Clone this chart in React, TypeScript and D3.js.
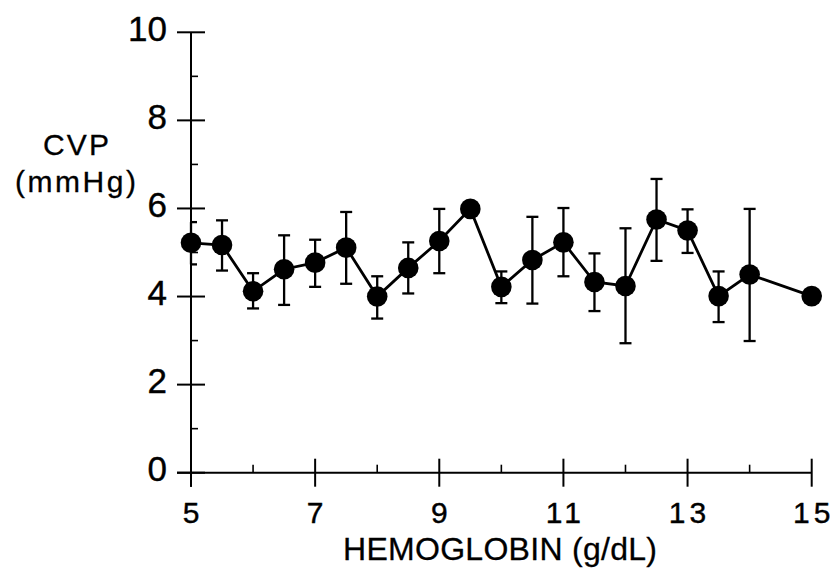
import React from "react";
import * as d3 from "d3";

const hemoglobin = [5, 5.5, 6, 6.5, 7, 7.5, 8, 8.5, 9, 9.5, 10, 10.5, 11, 11.5, 12, 12.5, 13, 13.5, 14, 15];
const cvp = [5.22, 5.17, 4.12, 4.62, 4.77, 5.11, 4.0, 4.65, 5.26, 5.99, 4.22, 4.83, 5.23, 4.33, 4.24, 5.75, 5.5, 4.01, 4.5, 4.01];
const errHigh: (number | null)[] = [5.69, 5.73, 4.53, 5.39, 5.29, 5.92, 4.46, 5.23, 5.99, null, 4.57, 5.81, 6.01, 4.98, 5.55, 6.67, 5.98, 4.57, 5.99, null];
const errLow: (number | null)[] = [4.73, 4.59, 3.73, 3.81, 4.22, 4.29, 3.5, 4.07, 4.53, null, 3.85, 3.84, 4.46, 3.67, 2.94, 4.81, 4.99, 3.42, 2.99, null];

const xMajorTicks = [5, 7, 9, 11, 13, 15];
const xMinorTicks = [6, 8, 10, 12, 14];
const yMajorTicks = [0, 2, 4, 6, 8, 10];
const yMinorTicks = [1, 3, 5, 7, 9];

const xTitle = "HEMOGLOBIN  (g/dL)";
const yTitle1 = "CVP";
const yTitle2 = "(mmHg)";

const FONT = "'Liberation Sans', Arial, Helvetica, sans-serif";

export default function App() {
  const W = 838;
  const H = 570;
  const x = d3.scaleLinear().domain([5, 15]).range([191, 811.7]);
  const y = d3.scaleLinear().domain([0, 10]).range([472.7, 32.3]);
  const axisX = x(5);
  const axisY = y(0);

  const line = d3
    .line<number>()
    .x((_, i) => x(hemoglobin[i]))
    .y((d) => y(d));

  const cap = 6;
  const ls = 4;

  return (
    <svg
      width={W}
      height={H}
      viewBox={`0 0 ${W} ${H}`}
      style={{ position: "absolute", left: 0, top: 0, display: "block", background: "#fff" }}
    >
      <rect x={0} y={0} width={W} height={H} fill="#fff" />
      {/* Y axis */}
      <line x1={axisX} x2={axisX} y1={y(10)} y2={axisY + 14} stroke="#000" strokeWidth={2} />
      {yMajorTicks.map((t) => (
        <g key={"ym" + t}>
          <line x1={axisX - 14} x2={axisX + 14} y1={y(t)} y2={y(t)} stroke="#000" strokeWidth={2} />
          <text
            x={167}
            y={y(t) + 8.5}
            textAnchor="end"
            fontFamily={FONT}
            fontSize={35}
            fill="#000"
            stroke="#000"
            strokeWidth={0.4}
          >
            {t}
          </text>
        </g>
      ))}
      {yMinorTicks.map((t) => (
        <line key={"yn" + t} x1={axisX} x2={axisX + 7} y1={y(t)} y2={y(t)} stroke="#000" strokeWidth={1.6} />
      ))}
      {/* X axis */}
      <line x1={axisX - 14} x2={x(15)} y1={axisY} y2={axisY} stroke="#000" strokeWidth={2} />
      {xMajorTicks.map((t) => (
        <g key={"xm" + t}>
          <line x1={x(t)} x2={x(t)} y1={axisY - 14} y2={axisY + 14} stroke="#000" strokeWidth={2} />
          <text
            x={x(t) + ls / 2}
            y={523}
            textAnchor="middle"
            fontFamily={FONT}
            fontSize={30}
            letterSpacing={ls}
            fill="#000"
            stroke="#000"
            strokeWidth={0.4}
          >
            {t}
          </text>
        </g>
      ))}
      {xMinorTicks.map((t) => (
        <line key={"xn" + t} x1={x(t)} x2={x(t)} y1={axisY - 8} y2={axisY} stroke="#000" strokeWidth={1.6} />
      ))}
      {/* Axis titles */}
      <text
        x={343}
        y={560}
        fontFamily={FONT}
        fontSize={32}
        textLength={314}
        lengthAdjust="spacing"
        fill="#000"
        stroke="#000"
        strokeWidth={0.3}
      >
        {xTitle}
      </text>
      <text x={43} y={155} fontFamily={FONT} fontSize={30} textLength={66} lengthAdjust="spacing" fill="#000" stroke="#000" strokeWidth={0.3}>
        {yTitle1}
      </text>
      <text x={15} y={191.5} fontFamily={FONT} fontSize={30} textLength={121} lengthAdjust="spacing" fill="#000" stroke="#000" strokeWidth={0.3}>
        {yTitle2}
      </text>
      {/* Error bars */}
      {hemoglobin.map((h, i) => {
        const hi = errHigh[i];
        const lo = errLow[i];
        if (hi == null || lo == null) return null;
        const cx = x(h);
        const left = Math.max(cx - cap, axisX);
        return (
          <g key={"e" + i} stroke="#000" strokeWidth={2.3}>
            <line x1={cx} x2={cx} y1={y(hi)} y2={y(lo)} />
            <line x1={left} x2={cx + cap} y1={y(hi)} y2={y(hi)} />
            <line x1={left} x2={cx + cap} y1={y(lo)} y2={y(lo)} />
          </g>
        );
      })}
      {/* Line */}
      <path d={line(cvp) || ""} fill="none" stroke="#000" strokeWidth={2.8} />
      {/* Markers */}
      {cvp.map((v, i) => (
        <circle key={"c" + i} cx={x(hemoglobin[i])} cy={y(v)} r={10.3} fill="#000" />
      ))}
    </svg>
  );
}
